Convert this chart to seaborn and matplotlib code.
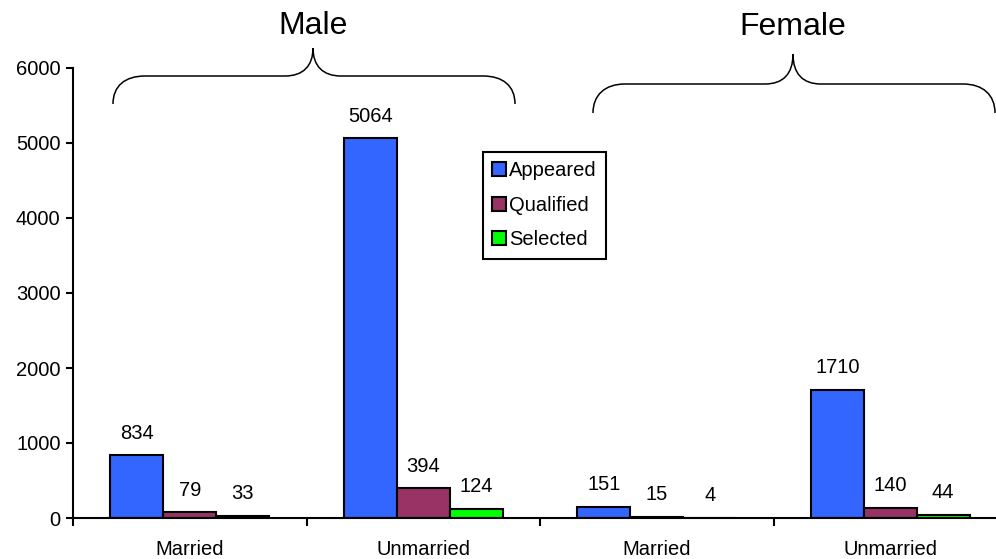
"""
Grouped bar chart of candidates by gender and marital status.
"""

import matplotlib.pyplot as plt
import pandas as pd
import seaborn as sns
from matplotlib.patches import PathPatch
from matplotlib.path import Path
from matplotlib.transforms import Affine2D


GROUP_KEYS = ["Male Married", "Male Unmarried", "Female Married", "Female Unmarried"]
GROUP_LABELS = ["Married", "Unmarried", "Married", "Unmarried"]
SERIES = ["Appeared", "Qualified", "Selected"]
APPEARED = [834, 5064, 151, 1710]
QUALIFIED = [79, 394, 15, 140]
SELECTED = [33, 124, 4, 44]
COLORS = ["#3366FF", "#993366", "#00FF00"]

W, H = 996, 559


def build_frame() -> pd.DataFrame:
    rows = []
    for series, values in zip(SERIES, [APPEARED, QUALIFIED, SELECTED]):
        for key, value in zip(GROUP_KEYS, values):
            rows.append({"group": key, "series": series, "count": value})
    return pd.DataFrame(rows)


def brace_path(x0, x1, xm, y_end, y_bar, y_tip) -> Path:
    """Curly brace in pixel coordinates (y measured downward)."""
    verts = [
        (x0, y_end),
        (x0, y_end - 18), (x0 + 12, y_bar), (x0 + 32, y_bar),
        (xm - 28, y_bar),
        (xm - 10, y_bar), (xm, y_bar - 10), (xm, y_tip),
        (xm, y_bar - 10), (xm + 10, y_bar), (xm + 28, y_bar),
        (x1 - 32, y_bar),
        (x1 - 12, y_bar), (x1, y_end - 18), (x1, y_end),
    ]
    codes = [Path.MOVETO] + [Path.CURVE4] * 3 + [Path.LINETO] + [Path.CURVE4] * 6 \
        + [Path.LINETO] + [Path.CURVE4] * 3
    return Path(verts, codes)


def main() -> None:
    sns.set_theme(style="white")
    plt.rcParams["font.family"] = ["Liberation Sans", "DejaVu Sans"]
    plt.rcParams["text.color"] = "black"
    plt.rcParams["xtick.color"] = "black"
    plt.rcParams["ytick.color"] = "black"

    df = build_frame()
    fig = plt.figure(figsize=(W / 100, H / 100), dpi=100)
    ax = fig.add_axes([73 / W, 41 / H, (1007 - 73) / W, 450 / H])

    sns.barplot(
        data=df, x="group", y="count", hue="series", order=GROUP_KEYS,
        hue_order=SERIES, palette=COLORS, width=0.68, gap=0,
        edgecolor="black", linewidth=1.5, ax=ax, saturation=1,
    )

    for container in ax.containers:
        ax.bar_label(container, padding=9, fontsize=14.5, color="black")

    ax.set_xlim(-0.5, 3.5)
    ax.set_ylim(0, 6000)
    ax.set_yticks(range(0, 6001, 1000))
    ax.set_xticks([-0.5, 0.5, 1.5, 2.5, 3.5])
    ax.set_xticklabels([])
    ax.set_xticks(range(4), minor=True)
    ax.set_xticklabels(GROUP_LABELS, minor=True)
    ax.tick_params(axis="x", which="major", direction="out", length=6, width=1.5,
                   color="black", bottom=True)
    ax.tick_params(axis="x", which="minor", length=0, pad=16, labelsize=14.5,
                   labelcolor="black")
    ax.tick_params(axis="y", direction="out", length=5, width=1.5, color="black",
                   pad=4, labelsize=14.5, labelcolor="black", left=True)
    ax.set_xlabel("")
    ax.set_ylabel("")
    for side in ["top", "right"]:
        ax.spines[side].set_visible(False)
    for side in ["left", "bottom"]:
        ax.spines[side].set_color("black")
        ax.spines[side].set_linewidth(1.5)

    handles, labels = ax.get_legend_handles_labels()
    leg = ax.legend(
        handles, labels, loc="upper left", bbox_to_anchor=(483 / W, 1 - 152 / H),
        bbox_transform=fig.transFigure, fontsize=14.5, frameon=True, fancybox=False,
        framealpha=1, edgecolor="black", handlelength=0.7, handleheight=0.7,
        handletextpad=0.15, labelspacing=0.78, borderpad=0.45, borderaxespad=0,
    )
    leg.get_frame().set_linewidth(1.5)
    for text in leg.get_texts():
        text.set_color("black")

    # Braces and group titles drawn in pixel coordinates of the figure.
    px = Affine2D().scale(1 / W, -1 / H).translate(0, 1) + fig.transFigure
    for x0, x1, xm, y_end, y_bar, y_tip in [(113, 515, 313, 104, 76, 48),
                                             (593, 995, 793, 113, 84, 54)]:
        patch = PathPatch(brace_path(x0, x1, xm, y_end, y_bar, y_tip), facecolor="none",
                          edgecolor="black", linewidth=1.1, transform=px)
        fig.add_artist(patch)
    fig.text(313 / W, 1 - 26 / H, "Male", ha="center", va="center", fontsize=23,
             color="black")
    fig.text(793 / W, 1 - 27 / H, "Female", ha="center", va="center", fontsize=23,
             color="black")

    fig.savefig("out.png", dpi=100)
    plt.close(fig)


if __name__ == "__main__":
    main()
